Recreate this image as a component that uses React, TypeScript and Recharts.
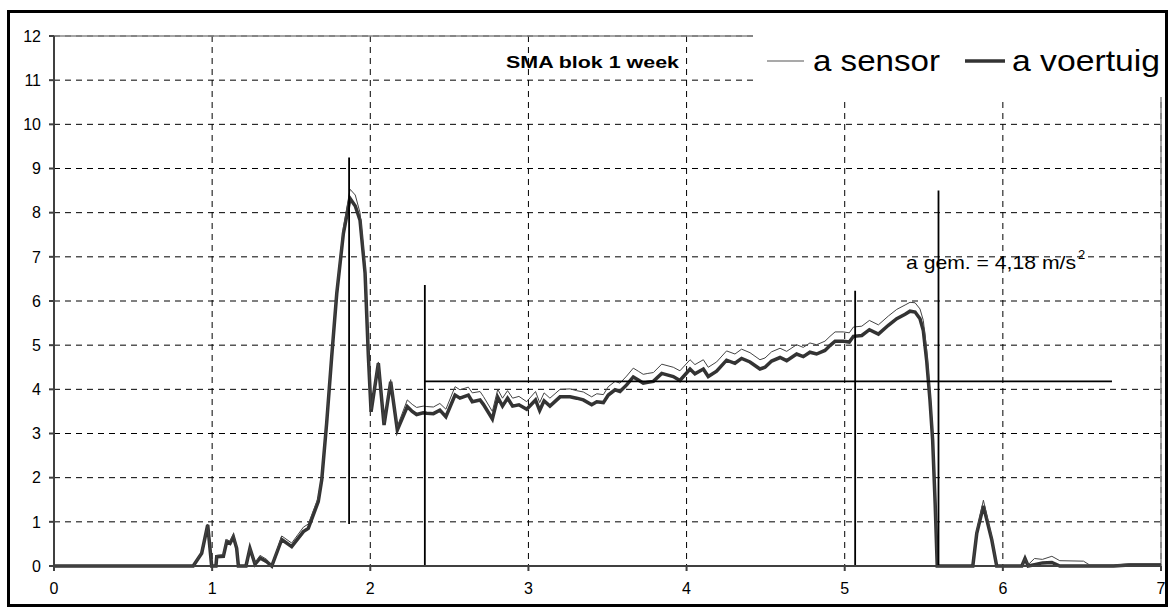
import { CartesianGrid, Customized, Line, LineChart, ReferenceLine, XAxis, YAxis } from "recharts";

// positie (x) en versnelling van sensor en voertuig
const X = [
  0, 0.88, 0.934, 0.972, 0.997, 1.024, 1.029, 1.071, 1.092, 1.113, 1.134, 1.155, 1.166, 1.214, 1.239, 1.271,
  1.303, 1.345, 1.377, 1.44, 1.503, 1.577, 1.608, 1.671, 1.693, 1.724, 1.756, 1.788, 1.83, 1.872, 1.905, 1.935,
  1.967, 1.988, 2.005, 2.051, 2.087, 2.129, 2.171, 2.234, 2.265, 2.293, 2.335, 2.357, 2.399, 2.44, 2.478, 2.536,
  2.567, 2.62, 2.645, 2.694, 2.715, 2.772, 2.806, 2.836, 2.868, 2.9, 2.94, 2.989, 3.045, 3.071, 3.099, 3.136,
  3.2, 3.263, 3.305, 3.347, 3.4, 3.432, 3.474, 3.505, 3.548, 3.579, 3.621, 3.663, 3.695, 3.726, 3.755, 3.79,
  3.843, 3.916, 3.958, 4.022, 4.053, 4.106, 4.137, 4.19, 4.253, 4.306, 4.348, 4.401, 4.464, 4.496, 4.538, 4.591,
  4.633, 4.696, 4.738, 4.78, 4.822, 4.875, 4.907, 4.939, 4.991, 5.029, 5.055, 5.108, 5.156, 5.213, 5.276, 5.329,
  5.382, 5.413, 5.445, 5.476, 5.497, 5.518, 5.539, 5.556, 5.572, 5.585, 5.81, 5.835, 5.877, 5.93, 5.961, 6.12,
  6.14, 6.16, 6.2, 6.25, 6.31, 6.36, 6.51, 6.55, 6.7, 6.8, 7,
];
const VOERTUIG = [
  0, 0, 0.29, 0.93, 0, 0, 0.21, 0.22, 0.55, 0.51, 0.66, 0.4, 0, 0, 0.4, 0.04,
  0.18, 0.1, 0, 0.6, 0.44, 0.78, 0.85, 1.46, 1.95, 3.23, 4.74, 6.17, 7.53, 8.32, 8.15, 7.83,
  6.63, 4.74, 3.49, 4.59, 3.19, 4.17, 3.08, 3.61, 3.5, 3.43, 3.47, 3.46, 3.45, 3.53, 3.38, 3.87,
  3.8, 3.87, 3.72, 3.76, 3.66, 3.33, 3.82, 3.62, 3.8, 3.62, 3.65, 3.55, 3.76, 3.52, 3.74, 3.62,
  3.83, 3.83, 3.8, 3.76, 3.65, 3.72, 3.7, 3.87, 3.99, 3.95, 4.1, 4.28, 4.21, 4.14, 4.16, 4.18,
  4.36, 4.29, 4.2, 4.46, 4.35, 4.46, 4.29, 4.41, 4.66, 4.59, 4.7, 4.62, 4.46, 4.5, 4.64, 4.72,
  4.65, 4.8, 4.74, 4.84, 4.8, 4.88, 4.99, 5.09, 5.09, 5.07, 5.2, 5.22, 5.35, 5.25, 5.45, 5.6,
  5.7, 5.77, 5.75, 5.6, 5.33, 4.66, 3.76, 2.85, 1.4, 0, 0, 0.74, 1.36, 0.59, 0, 0,
  0.17, 0, 0.03, 0.07, 0.08, 0, 0, 0, 0, 0.02, 0.02,
];
const SENSOR = [
  0, 0, 0.31, 0.95, 0, 0, 0.24, 0.26, 0.6, 0.56, 0.72, 0.45, 0, 0, 0.42, 0.06,
  0.24, 0.15, 0, 0.68, 0.52, 0.88, 0.95, 1.55, 2.02, 3.3, 4.82, 6.26, 7.66, 8.53, 8.4, 8.0,
  6.8, 4.85, 3.55, 4.62, 3.24, 4.22, 3.16, 3.76, 3.66, 3.59, 3.62, 3.61, 3.6, 3.68, 3.55, 4.06,
  3.99, 4.05, 3.92, 3.95, 3.84, 3.5, 4.0, 3.8, 3.97, 3.8, 3.84, 3.72, 3.95, 3.7, 3.92, 3.8,
  4.0, 4.01, 3.97, 3.94, 3.83, 3.9, 3.88, 4.06, 4.18, 4.14, 4.3, 4.48, 4.41, 4.34, 4.36, 4.38,
  4.57, 4.5, 4.42, 4.67, 4.56, 4.67, 4.5, 4.62, 4.87, 4.8, 4.91, 4.83, 4.67, 4.71, 4.85, 4.93,
  4.86, 5.01, 4.95, 5.05, 5.01, 5.09, 5.2, 5.3, 5.3, 5.28, 5.41, 5.43, 5.56, 5.46, 5.66, 5.81,
  5.91, 5.97, 5.96, 5.82, 5.56, 4.9, 3.95, 3.0, 1.5, 0, 0, 0.8, 1.49, 0.65, 0, 0,
  0.17, 0.03, 0.17, 0.15, 0.22, 0.12, 0.11, 0.02, 0.02, 0.05, 0.05,
];

const X_TICKS = [0, 1, 2, 3, 4, 5, 6, 7];
const Y_TICKS = [0, 1, 2, 3, 4, 5, 6, 7, 8, 9, 10, 11, 12];

// gemiddelde en markeringslijnen
const MEAN = 4.18;
const MEAN_FROM = 2.345;
const MEAN_TO = 6.69;
const MARKERS = [
  { x: 1.866, from: 0.95, to: 9.25 },
  { x: 2.345, from: 0, to: 6.36 },
  { x: 5.066, from: 0, to: 6.23 },
  { x: 5.593, from: 0, to: 8.5 },
];

const FONT = '"Liberation Sans", Arial, sans-serif';
const INK = "#333";

const data = X.map((x, i) => ({ x, sensor: SENSOR[i], voertuig: VOERTUIG[i] }));

function Texts() {
  return (
    <g fontFamily={FONT} fill="#000">
      <text x={496} y={54.7} fontSize={17} fontWeight="bold" textLength={173} lengthAdjust="spacingAndGlyphs">
        SMA blok 1 week
      </text>
      <text x={896} y={256} fontSize={19} textLength={170} lengthAdjust="spacingAndGlyphs">
        a gem. = 4,18 m/s
      </text>
      <text x={1068} y={246} fontSize={13}>2</text>
    </g>
  );
}

function LegendBox() {
  return (
    <div style={{ position: "absolute", left: 743, top: 0, width: 412, height: 84, background: "#fff" }}>
      <svg width={412} height={84} style={{ fontFamily: FONT }}>
        <line x1={14} x2={51} y1={48} y2={48} stroke="#555" strokeWidth={1.2} />
        <text x={60} y={58} fontSize={29} textLength={127} lengthAdjust="spacingAndGlyphs">a sensor</text>
        <line x1={212} x2={252} y1={48} y2={48} stroke={INK} strokeWidth={3.5} />
        <text x={259} y={58} fontSize={29} textLength={148} lengthAdjust="spacingAndGlyphs">a voertuig</text>
      </svg>
    </div>
  );
}

export default function App() {
  const tick = { fontSize: 16, fill: "#000", fontFamily: FONT };
  return (
    <div
      style={{
        position: "absolute",
        left: 7,
        top: 10,
        width: 1161,
        height: 597,
        border: "3px solid #000",
        boxSizing: "border-box",
        background: "#fff",
      }}
    >
      <LineChart width={1155} height={591} data={data} margin={{ top: 23, right: 4, left: 0, bottom: 0 }}>
        <CartesianGrid stroke="#000" strokeDasharray="6 5" horizontalValues={Y_TICKS} verticalValues={X_TICKS} />
        <XAxis
          type="number"
          dataKey="x"
          domain={[0, 7]}
          ticks={X_TICKS}
          height={38}
          tick={tick}
          tickSize={5}
          tickMargin={12}
          stroke="#404040"
          strokeWidth={2}
        />
        <YAxis
          type="number"
          domain={[0, 12]}
          ticks={Y_TICKS}
          width={44}
          tick={tick}
          tickSize={5}
          tickMargin={8}
          stroke="#404040"
          strokeWidth={2}
        />
        <ReferenceLine y={12} stroke="#888" strokeWidth={1.5} />
        <ReferenceLine x={7} stroke="#888" strokeWidth={1.5} />
        <Line
          type="linear"
          dataKey="voertuig"
          stroke={INK}
          strokeWidth={3.5}
          dot={false}
          activeDot={false}
          isAnimationActive={false}
        />
        <Line
          type="linear"
          dataKey="sensor"
          stroke="#444"
          strokeWidth={1}
          dot={false}
          activeDot={false}
          isAnimationActive={false}
        />
        {MARKERS.map((m) => (
          <ReferenceLine
            key={m.x}
            segment={[
              { x: m.x, y: m.from },
              { x: m.x, y: m.to },
            ]}
            stroke="#000"
            strokeWidth={1.8}
          />
        ))}
        <ReferenceLine
          segment={[
            { x: MEAN_FROM, y: MEAN },
            { x: MEAN_TO, y: MEAN },
          ]}
          stroke="#000"
          strokeWidth={1.8}
        />
        <Customized component={Texts} />
      </LineChart>
      <LegendBox />
    </div>
  );
}
